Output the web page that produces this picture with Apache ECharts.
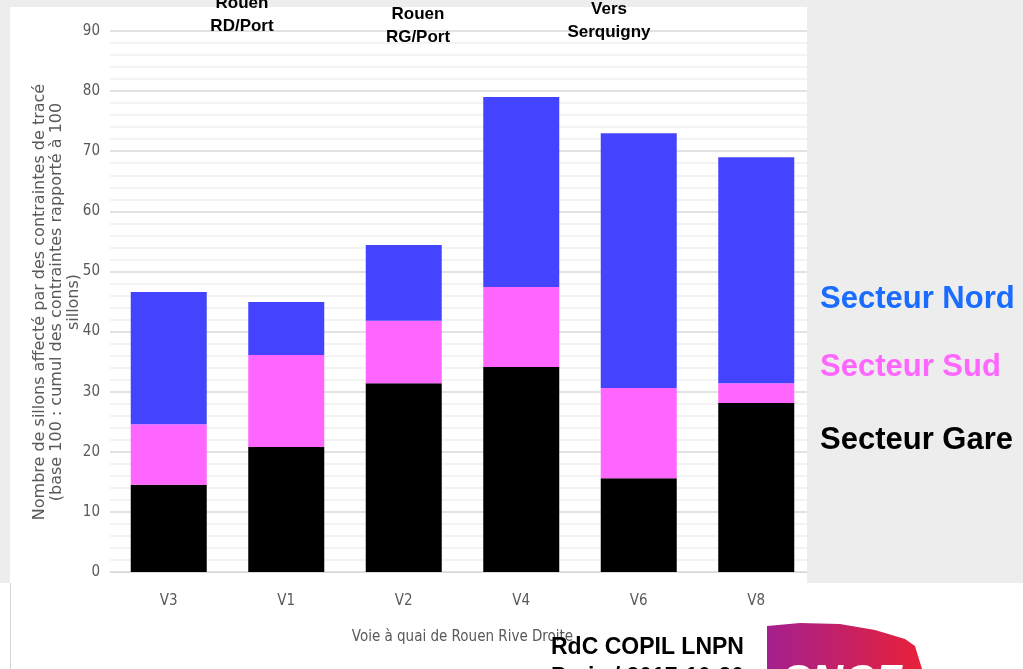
<!DOCTYPE html>
<html>
<head>
<meta charset="utf-8">
<script src="https://cdn.jsdelivr.net/npm/echarts@6/dist/echarts.min.js"></script>
<style>
  html, body { margin: 0; padding: 0; background: #fff; }
  #main { width: 1023px; height: 669px; }
</style>
</head>
<body>
<div id="main"></div>
<script>
// voies (axe x)
const categories = ['V3', 'V1', 'V2', 'V4', 'V6', 'V8'];
// valeurs empilées, de bas en haut
const gare = [14.5, 20.8, 31.4, 34.1, 15.6, 28.1];
const sud = [10.1, 15.3, 10.4, 13.3, 15.0, 3.3];
const nord = [22.0, 8.8, 12.6, 31.6, 42.4, 37.6];
const yTicks = [0, 10, 20, 30, 40, 50, 60, 70, 80, 90];

const narrow = "'Liberation Sans Narrow', 'DejaVu Sans Condensed', sans-serif";
const bold = "'Liberation Sans', Arial, sans-serif";

const myChart = echarts.init(document.getElementById('main'));

const option = {
  backgroundColor: '#ffffff',
  animation: false,
  grid: { left: 110, right: 208, top: 31, bottom: 97 },
  xAxis: {
    type: 'category',
    data: categories,
    name: 'Voie à quai de Rouen Rive Droite',
    nameLocation: 'middle',
    nameGap: 58,
    nameTextStyle: { color: '#595959', fontSize: 15, fontFamily: narrow },
    axisLine: { lineStyle: { color: '#d9d9d9', width: 1 } },
    axisTick: { show: false },
    axisLabel: { color: '#595959', fontSize: 15, fontFamily: narrow, margin: 22 }
  },
  yAxis: {
    type: 'value',
    min: yTicks[0],
    max: yTicks[yTicks.length - 1],
    interval: 10,
    axisLine: { show: false },
    axisTick: { show: false },
    axisLabel: { color: '#595959', fontSize: 15, fontFamily: narrow, margin: 10 },
    splitLine: { lineStyle: { color: '#d9d9d9', width: 1.5 } },
    minorTick: { show: false, splitNumber: 5 },
    minorSplitLine: { show: true, lineStyle: { color: '#f0f0f0', width: 1.5 } }
  },
  series: [
    { name: 'Secteur Gare', type: 'bar', stack: 'total', barWidth: 76, itemStyle: { color: '#000000' }, data: gare },
    { name: 'Secteur Sud', type: 'bar', stack: 'total', barWidth: 76, itemStyle: { color: '#ff66ff' }, data: sud },
    { name: 'Secteur Nord', type: 'bar', stack: 'total', barWidth: 76, itemStyle: { color: '#4444ff' }, data: nord }
  ],
  graphic: [
    // fond gris de la diapositive autour du graphique
    { type: 'rect', z: 100, shape: { x: 0, y: 0, width: 1023, height: 7 }, style: { fill: '#ecedec' } },
    { type: 'rect', z: 100, shape: { x: 0, y: 0, width: 10, height: 583 }, style: { fill: '#ecedec' } },
    { type: 'rect', z: 100, shape: { x: 807, y: 0, width: 216, height: 583 }, style: { fill: '#ecedec' } },
    { type: 'line', z: 100, shape: { x1: 10.5, y1: 583, x2: 10.5, y2: 669 }, style: { stroke: '#d6d6d6', lineWidth: 1 } },
    // titre de l'axe y
    {
      type: 'text', z: 101, x: 57, y: 302, rotation: Math.PI / 2,
      style: {
        text: 'Nombre de sillons affecté par des contraintes de tracé\n(base 100 : cumul des contraintes rapporté à 100\nsillons)',
        fill: '#595959', font: "16px 'DejaVu Sans', sans-serif", lineHeight: 17,
        align: 'center', verticalAlign: 'middle'
      }
    },
    // étiquettes en haut
    { type: 'text', z: 101, x: 242, y: -8, style: { text: 'Rouen\nRD/Port', fill: '#000', font: 'bold 17px ' + bold, align: 'center', lineHeight: 23 } },
    { type: 'text', z: 101, x: 418, y: 3, style: { text: 'Rouen\nRG/Port', fill: '#000', font: 'bold 17px ' + bold, align: 'center', lineHeight: 23 } },
    { type: 'text', z: 101, x: 609, y: -2, style: { text: 'Vers\nSerquigny', fill: '#000', font: 'bold 17px ' + bold, align: 'center', lineHeight: 23 } },
    // légende manuelle
    { type: 'text', z: 101, x: 820, y: 284, style: { text: 'Secteur Nord', fill: '#1a6bff', font: 'bold 31px ' + bold } },
    { type: 'text', z: 101, x: 820, y: 352, style: { text: 'Secteur Sud', fill: '#ff66ff', font: 'bold 31px ' + bold } },
    { type: 'text', z: 101, x: 820, y: 425, style: { text: 'Secteur Gare', fill: '#000000', font: 'bold 31px ' + bold } },
    // pied de page
    { type: 'text', z: 101, x: 551, y: 636, style: { text: 'RdC COPIL LNPN', fill: '#000', font: 'bold 23px ' + bold } },
    { type: 'text', z: 101, x: 551, y: 666, style: { text: 'Paris / 2017-10-20', fill: '#000', font: 'bold 23px ' + bold } },
    {
      type: 'polygon', z: 101,
      shape: { points: [[767, 626], [800, 623], [840, 624], [875, 630], [905, 639], [915, 646], [922, 669], [767, 669]] },
      style: {
        fill: new echarts.graphic.LinearGradient(0, 0, 1, 0, [
          { offset: 0, color: '#a4208e' },
          { offset: 1, color: '#e8203a' }
        ])
      }
    },
    { type: 'text', z: 102, x: 782, y: 662, style: { text: 'SNCF', fill: '#ffffff', font: 'italic bold 44px ' + bold } }
  ]
};

option && myChart.setOption(option);
</script>
</body>
</html>
